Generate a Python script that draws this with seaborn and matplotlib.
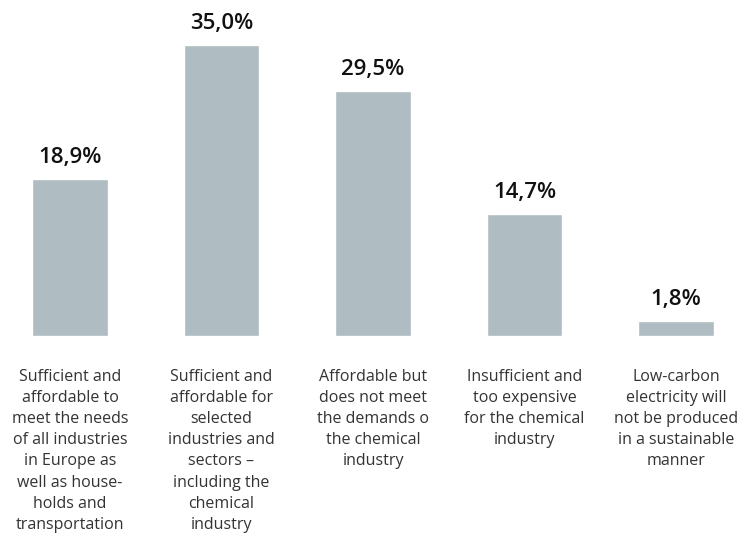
import matplotlib
matplotlib.use("Agg")
import matplotlib.pyplot as plt
import seaborn as sns
import pandas as pd

# Dados do gráfico
categorias = [
    "Sufficient and\naffordable to\nmeet the needs\nof all industries\nin Europe as\nwell as house-\nholds and\ntransportation",
    "Sufficient and\naffordable for\nselected\nindustries and\nsectors \u2013\nincluding the\nchemical\nindustry",
    "Affordable but\ndoes not meet\nthe demands o\nthe chemical\nindustry",
    "Insufficient and\ntoo expensive\nfor the chemical\nindustry",
    "Low-carbon\nelectricity will\nnot be produced\nin a sustainable\nmanner",
]
valores = [18.9, 35.0, 29.5, 14.7, 1.8]
rotulos = ["18,9%", "35,0%", "29,5%", "14,7%", "1,8%"]

df = pd.DataFrame({"cat": categorias, "val": valores})

sns.set_style("white")
plt.rcParams["font.family"] = ["Open Sans", "DejaVu Sans"]

fig = plt.figure(figsize=(7.46, 5.37), dpi=100)
ax = fig.add_axes([0, 201 / 537, 1, 336 / 537])

sns.barplot(data=df, x="cat", y="val", color="#afbcc1", saturation=1,
            width=0.5, ax=ax)

ax.bar_label(ax.containers[0], labels=rotulos, padding=8,
             fontsize=16, color="#111111", fontweight="semibold")

ax.set_xlim(-0.462, 4.462)
ax.set_ylim(0, 40.4)
ax.set_xlabel("")
ax.set_ylabel("")
ax.set_yticks([])
ax.tick_params(axis="x", length=0, pad=24, labelsize=11.5, labelcolor="#333333")
for lab in ax.get_xticklabels():
    lab.set_linespacing(1.42)
sns.despine(ax=ax, left=True, bottom=True)

fig.savefig("out.png", dpi=100)
